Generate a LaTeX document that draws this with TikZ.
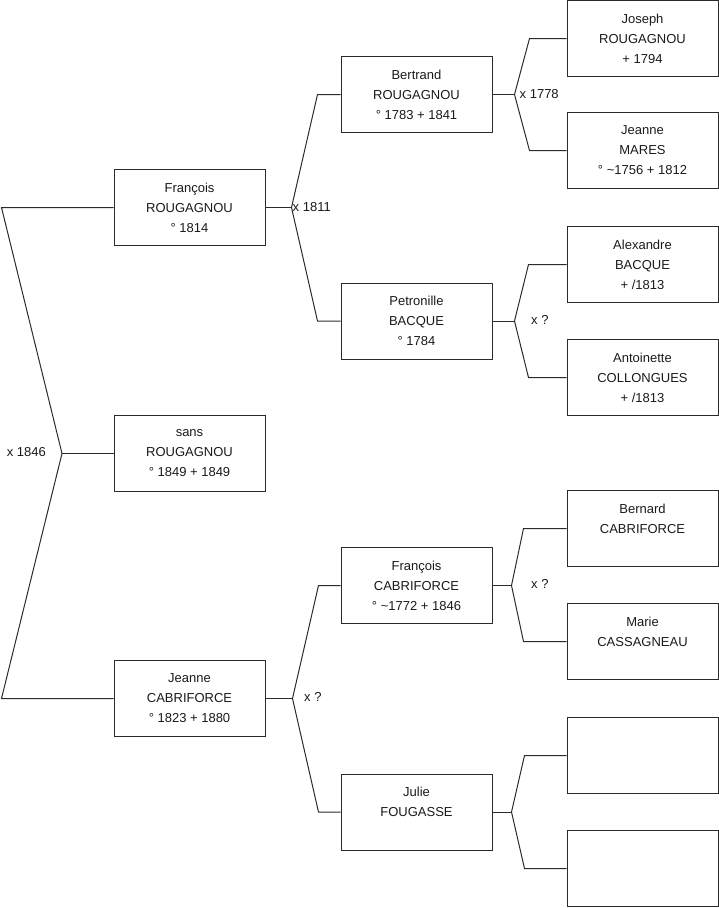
\documentclass[tikz,border=0pt]{standalone}
\usepackage{fontspec}
\setmainfont{Liberation Sans}
\usetikzlibrary{positioning}
\definecolor{treeInk}{HTML}{1A1A1A}
\definecolor{treeLine}{HTML}{2B2B2B}
\tikzset{
  personBox/.style={
    draw=treeLine,
    line width=1pt,
    minimum width=151pt,
    minimum height=76pt,
    inner sep=0pt,
    align=center,
    text=treeInk,
    font=\fontsize{13}{20}\selectfont
  },
  treeLink/.style={
    draw=treeLine,
    line width=1pt
  },
  unionLabel/.style={
    font=\fontsize{13}{16}\selectfont,
    text=treeInk,
    inner sep=0pt
  }
}

\begin{document}
\begin{tikzpicture}[x=1pt,y=-1pt]
\useasboundingbox (0,0) rectangle (719,908);

% Child and parents.
\node[personBox] (fRou) at (189.5,207.5)
  {François\\ROUGAGNOU\\° 1814};
\node[personBox] (sans) at (189.5,453.5)
  {sans\\ROUGAGNOU\\° 1849 + 1849};
\node[personBox] (jCab) at (189.5,698.5)
  {Jeanne\\CABRIFORCE\\° 1823 + 1880};

% Grandparents.
\node[personBox] (bert) at (416.5,94.5)
  {Bertrand\\ROUGAGNOU\\° 1783 + 1841};
\node[personBox] (petr) at (416.5,321)
  {Petronille\\BACQUE\\° 1784};
\node[personBox] (fCab) at (416.5,585.5)
  {François\\CABRIFORCE\\° \textasciitilde1772 + 1846};
\node[personBox] (julie) at (416.5,812)
  {Julie\\FOUGASSE\\\mbox{}};

% Great-grandparents.
\node[personBox] (joseph) at (642.5,38.5)
  {Joseph\\ROUGAGNOU\\+ 1794};
\node[personBox] (jMar) at (642.5,150.5)
  {Jeanne\\MARES\\° \textasciitilde1756 + 1812};
\node[personBox] (alex) at (642.5,264.5)
  {Alexandre\\BACQUE\\+ /1813};
\node[personBox] (anto) at (642.5,377.5)
  {Antoinette\\COLLONGUES\\+ /1813};
\node[personBox] (bern) at (642.5,528.5)
  {Bernard\\CABRIFORCE\\\mbox{}};
\node[personBox] (marie) at (642.5,641.5)
  {Marie\\CASSAGNEAU\\\mbox{}};
\node[personBox] (emptyA) at (642.5,755.5) {};
\node[personBox] (emptyB) at (642.5,868.5) {};

% Unions.
\coordinate (rootFork) at (62,453.5);
\draw[treeLink] (fRou.west) -- ++(-112,0) -- (rootFork) -- ([xshift=-112pt]jCab.west) -- (jCab.west);
\draw[treeLink] (rootFork) -- (sans.west);
\node[unionLabel, anchor=east] (rootUnion) at (46,452) {x 1846};

\coordinate (fRouFork) at ([xshift=26pt]fRou.east);
\draw[treeLink] (bert.west) -- ++(-23,0) -- (fRouFork) -- ([xshift=-23pt]petr.west) -- (petr.west);
\draw[treeLink] (fRou.east) -- (fRouFork);
\node[unionLabel, anchor=west] (fRouUnion) at ([xshift=1pt]fRouFork) {x 1811};

\coordinate (jCabFork) at ([xshift=27pt]jCab.east);
\draw[treeLink] (fCab.west) -- ++(-22,0) -- (jCabFork) -- ([xshift=-22pt]julie.west) -- (julie.west);
\draw[treeLink] (jCab.east) -- (jCabFork);
\node[unionLabel, anchor=west] (jCabUnion) at (304,697) {x ?};

\coordinate (bertFork) at ([xshift=22pt]bert.east);
\draw[treeLink] (joseph.west) -- ++(-37,0) -- (bertFork) -- ([xshift=-37pt]jMar.west) -- (jMar.west);
\draw[treeLink] (bert.east) -- (bertFork);
\node[unionLabel, anchor=west] (bertUnion) at ([xshift=5pt]bertFork) {x 1778};

\coordinate (petrFork) at ([xshift=22pt]petr.east);
\draw[treeLink] (alex.west) -- ++(-38,0) -- (petrFork) -- ([xshift=-38pt]anto.west) -- (anto.west);
\draw[treeLink] (petr.east) -- (petrFork);
\node[unionLabel, anchor=west] (petrUnion) at (531,319.5) {x ?};

\coordinate (fCabFork) at ([xshift=19pt]fCab.east);
\draw[treeLink] (bern.west) -- ++(-43,0) -- (fCabFork) -- ([xshift=-43pt]marie.west) -- (marie.west);
\draw[treeLink] (fCab.east) -- (fCabFork);
\node[unionLabel, anchor=west] (fCabUnion) at (531,583.5) {x ?};

\coordinate (julieFork) at ([xshift=19pt]julie.east);
\draw[treeLink] (emptyA.west) -- ++(-42,0) -- (julieFork) -- ([xshift=-42pt]emptyB.west) -- (emptyB.west);
\draw[treeLink] (julie.east) -- (julieFork);

\end{tikzpicture}
\end{document}
